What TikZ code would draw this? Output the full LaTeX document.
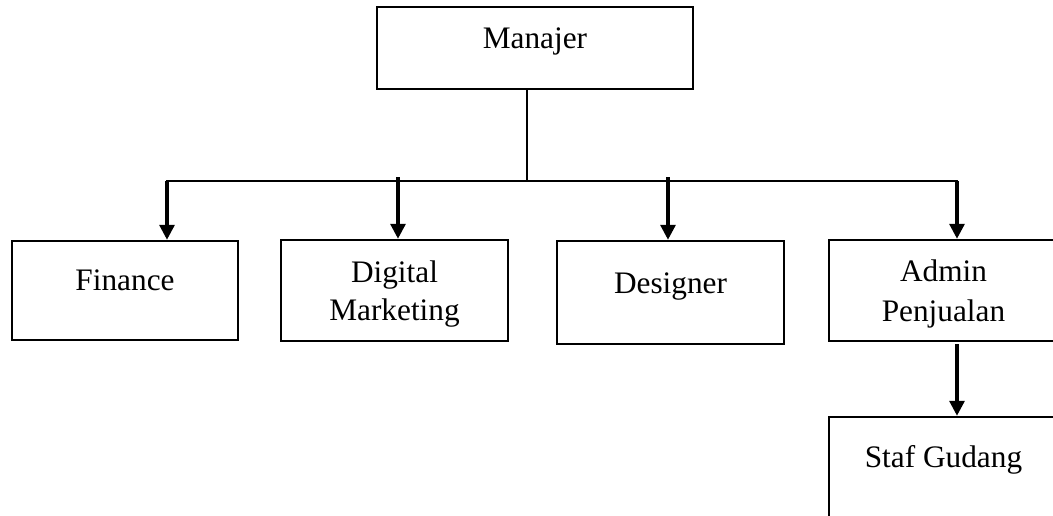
\documentclass[tikz,border=0pt]{standalone}
\usepackage{fontspec}
\setmainfont{Liberation Serif}
\usetikzlibrary{arrows.meta,calc}
\begin{document}
\begin{tikzpicture}[x=1pt,y=-1pt,
  box/.style={draw=black,line width=2.5pt,rectangle,inner sep=0pt},
  lbl/.style={anchor=base,inner sep=0pt,font=\fontsize{31.3}{40}\selectfont},
  arr/.style={line width=3.2pt,-{Triangle[width=15pt,length=15pt]}},
  bar/.style={line width=2.7pt,line cap=rect},
  trunk/.style={line width=2pt}]
\useasboundingbox (0,0) rectangle (1053,515);
\clip (0,0) rectangle (1053,515);
\fill[white] (0,0) rectangle (1053,515);
% boxes
\node[box,minimum width=316pt,minimum height=82pt] (mgr) at (535,48) {};
\node[box,minimum width=226pt,minimum height=99pt] (fin) at (125,290.5) {};
\node[box,minimum width=227pt,minimum height=101pt] (dig) at (394.5,290.5) {};
\node[box,minimum width=227pt,minimum height=103pt] (des) at (670.5,292.5) {};
\node[box,minimum width=229pt,minimum height=101pt] (adm) at (943.5,290.5) {};
\node[box,minimum width=229pt,minimum height=106pt] (stf) at (943.5,470) {};
% labels
\node[lbl] (tmgr) at (535,48) {Manajer};
\node[lbl] (tfin) at (125,290) {Finance};
\node[lbl] (tdig1) at (394.5,282) {Digital};
\node[lbl] (tdig2) at (394.5,320) {Marketing};
\node[lbl] (tdes) at (670.5,293) {Designer};
\node[lbl] (tadm1) at (943.5,281) {Admin};
\node[lbl] (tadm2) at (943.5,321) {Penjualan};
\node[lbl] (tstf) at (943.5,467) {Staf Gudang};
% connector points
\coordinate (j) at (527,181);
\coordinate (bl) at (167,181);
\coordinate (br) at (957,181);
\coordinate (bd) at (398,177);
\coordinate (bs) at (668,177);
% connectors
\draw[trunk] (j |- mgr.south) -- (j);
\draw[bar] (bl) -- (br);
\draw[arr] (bl) -- (bl |- fin.north);
\draw[arr] (bd) -- (bd |- dig.north);
\draw[arr] (bs) -- (bs |- des.north);
\draw[arr] (br) -- (br |- adm.north);
\draw[arr] ($(br |- adm.south)+(0,2)$) -- (br |- stf.north);
\end{tikzpicture}
\end{document}
